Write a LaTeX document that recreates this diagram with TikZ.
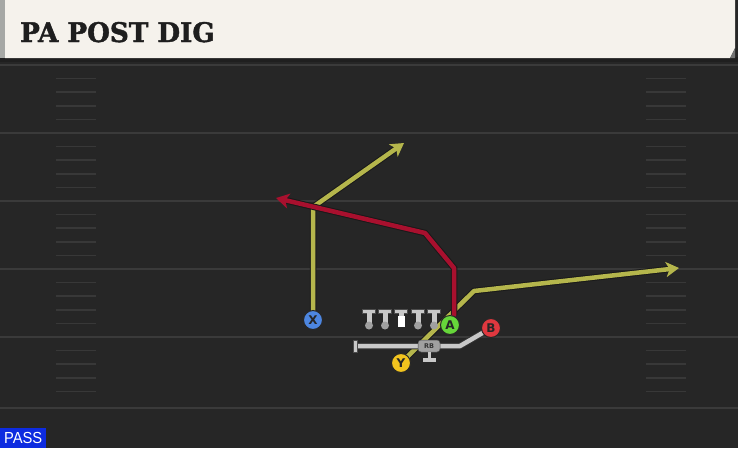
\documentclass[tikz,border=0pt]{standalone}
\usepackage{fontspec}
\setmainfont{DejaVu Sans}
\newfontfamily\titlefont[BoldFeatures={FakeBold=1.6}]{DejaVu Serif}
\newfontfamily\passfont{Liberation Sans}
\usetikzlibrary{arrows.meta}
\definecolor{fieldbg}{HTML}{262626}
\definecolor{fieldline}{HTML}{3A3A3A}
\definecolor{hashcol}{HTML}{383838}
\definecolor{headerbg}{HTML}{F5F2EC}
\definecolor{stripcol}{HTML}{A6A8A5}
\definecolor{titlecol}{HTML}{1E1E1E}
\definecolor{routeyel}{HTML}{B5B64C}
\definecolor{routered}{HTML}{A8102E}
\definecolor{pblue}{HTML}{4D86E0}
\definecolor{pgreen}{HTML}{66D63A}
\definecolor{pred}{HTML}{E0383F}
\definecolor{pyel}{HTML}{F2C41E}
\definecolor{lgray}{HTML}{C8C8C8}
\definecolor{mgray}{HTML}{A0A0A0}
\definecolor{passblue}{HTML}{0D2BE0}
\pgfdeclarelayer{back}
\pgfdeclarelayer{routes}
\pgfsetlayers{back,routes,main}
\tikzset{
  player/.style={circle, draw=black!85, line width=1pt, minimum size=19pt, inner sep=0pt,
    font=\bfseries\fontsize{12}{12}\selectfont, text=black!85},
  route/.style={line width=4.5pt, line join=round, line cap=round,
    preaction={draw=black!90, line width=6.5pt, arrows=-, shorten >=8pt}},
  tip/.style={-{Stealth[length=13pt,width=15pt,inset=3.5pt]}},
  blockline/.style={draw=lgray, line width=4.5pt, line join=round,
    preaction={draw=black!80, line width=6.5pt}},
  yardline/.style={draw=fieldline, line width=2.5pt},
  hash/.style={draw=hashcol, line width=1.5pt}
}
\begin{document}
\begin{tikzpicture}[x=1pt,y=-1pt]
\useasboundingbox (0,0) rectangle (738,448);
\begin{pgfonlayer}{back}
  \fill[fieldbg] (0,0) rectangle (738,448);
  \foreach \y in {65,133,201,269,337,408} {\draw[yardline] (0,\y) -- (738,\y);}
  \foreach \y in {65,133,201,269,337} {
    \foreach \k in {1,2,3,4} {
      \draw[hash] (56,\y+13.6*\k) -- (96,\y+13.6*\k);
      \draw[hash] (646,\y+13.6*\k) -- (686,\y+13.6*\k);
    }
  }
  \fill[black!88] (0,57) rectangle (738,62);
  \fill[headerbg] (5,0) -- (735,0) -- (735,48) -- (730,58) -- (5,58) -- cycle;
  \fill[stripcol] (0,0) rectangle (5,58);
  \fill[black!55] (735,48) -- (730,58) -- (735,58) -- cycle;
\end{pgfonlayer}
\node[anchor=base west, inner sep=0pt, text=titlecol,
  font=\titlefont\bfseries\fontsize{27}{27}\selectfont] (title) at (20,42)
  {\scalebox{0.97}[1]{PA POST DIG}};
% PASS tag
\node[anchor=south west, fill=passblue, text=white, inner sep=0pt,
  minimum width=46pt, minimum height=20pt,
  font=\passfont\fontsize{16}{16}\selectfont] (pass) at (0,448) {\scalebox{0.92}[1]{PASS}};
% offensive line
\foreach \x in {369,385,401,418,434} {
  \fill[lgray, draw=black!70, line width=0.5pt] (\x-6.5,309) rectangle (\x+6.5,313.5);
  \fill[lgray] (\x-2.5,313) rectangle (\x+2.5,323);
}
\foreach \x in {369,385,418,434} {
  \fill[mgray] (\x,325.5) circle (4pt);
}
\fill[white] (397.5,316) rectangle (405,327);
% blocking line and RB
\draw[blockline] (355,346) -- (460,346) -- (491,328);
\fill[lgray, draw=black!70, line width=0.5pt] (353.5,340) rectangle (357,352);
\node[fill=mgray, draw=black!70, line width=0.5pt, rounded corners=3pt,
  minimum width=22pt, minimum height=12pt, inner sep=0pt,
  font=\bfseries\fontsize{6.5}{6.5}\selectfont, text=black!80] (RB) at (429,346) {RB};
\fill[lgray] (427.5,352) rectangle (431,358);
\fill[lgray] (423,357.5) rectangle (436,361.5);
% players
\node[player, fill=pblue] (X) at (313,320) {X};
\node[player, fill=pgreen] (A) at (450,325) {A};
\node[player, fill=pred] (B) at (491,328) {B};
\node[player, fill=pyel] (Y) at (401,363) {Y};
% route corners
\coordinate (x1) at (313,207);
\coordinate (x2) at (404,143);
\coordinate (r1) at (454,268);
\coordinate (r2) at (425,233);
\coordinate (r3) at (276,198);
\coordinate (y1) at (474,291);
\coordinate (y2) at (679,268);
\begin{pgfonlayer}{routes}
  \draw[route, tip, draw=routeyel] (X.center) -- (x1) -- (x2);
  \draw[route, tip, draw=routeyel] (Y.center) -- (y1) -- (y2);
  \draw[route, tip, draw=routered] ([xshift=4pt]A.north) -- (r1) -- (r2) -- (r3);
\end{pgfonlayer}
\end{tikzpicture}
\end{document}
